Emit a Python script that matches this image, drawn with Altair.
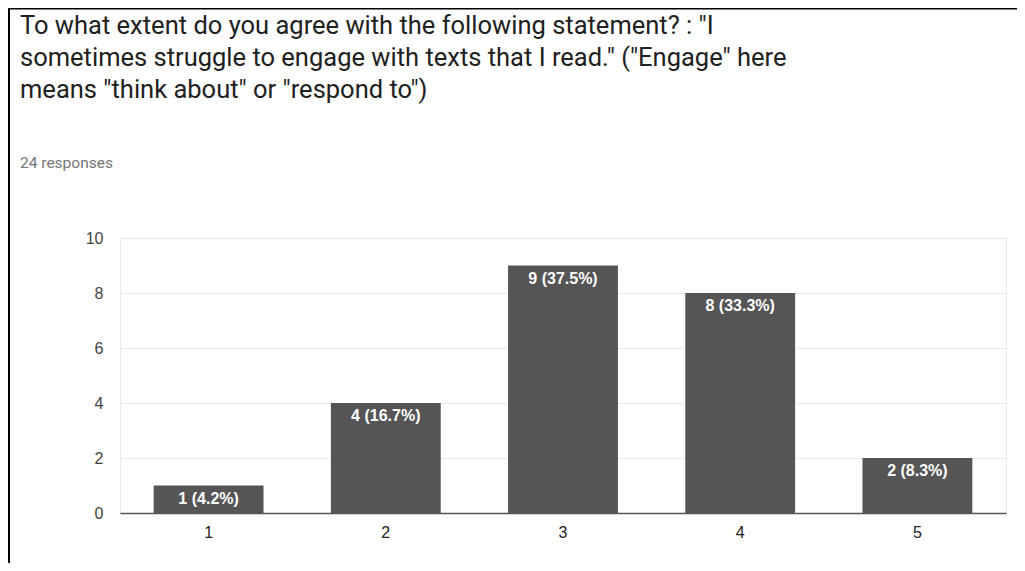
import altair as alt
import pandas as pd

categories = ["1", "2", "3", "4", "5"]
counts = [1, 4, 9, 8, 2]
labels = ["1 (4.2%)", "4 (16.7%)", "9 (37.5%)", "8 (33.3%)", "2 (8.3%)"]
title_lines = [
    "To what extent do you agree with the following statement? : \"I",
    "sometimes struggle to engage with texts that I read.\" (\"Engage\" here",
    "means \"think about\" or \"respond to\")",
]
subtitle = "24 responses"

df = pd.DataFrame({"cat": categories, "count": counts, "label": labels})
one = pd.DataFrame({"k": [0]})

W, H = 886, 275
PL, PT, PR, PB = 112, 230, 11, 50

base = alt.Chart(df)
single = alt.Chart(one)

x = alt.X("cat:N", sort=categories, title=None,
          scale=alt.Scale(paddingInner=0.38, paddingOuter=0.19),
          axis=alt.Axis(labelAngle=0, ticks=False, domain=True, domainColor="#555555",
                        domainWidth=1.5, labelFontSize=16, labelColor="#222222",
                        labelFont="Liberation Sans", labelPadding=11, grid=False))
y = alt.Y("count:Q", title=None,
          scale=alt.Scale(domain=[0, 10]),
          axis=alt.Axis(values=[0, 2, 4, 6, 8, 10], domain=False, ticks=False,
                        labelFontSize=16, labelColor="#444444", labelFont="Liberation Sans",
                        labelPadding=17, gridColor="#ebebeb", gridWidth=1))

bars = base.mark_bar(color="#555555").encode(x=x, y=y)
text = base.mark_text(color="white", baseline="top", dy=5, fontSize=16,
                      font="Liberation Sans", fontWeight="bold").encode(
    x=alt.X("cat:N", sort=categories), y="count:Q", text="label:N")

title_mark = single.mark_text(
    text=title_lines, align="left", baseline="alphabetic", font="Roboto",
    fontSize=25.5, lineHeight=32, color="#212121").encode(
    x=alt.value(-100), y=alt.value(34 - 238))
subtitle_mark = single.mark_text(
    text=subtitle, align="left", baseline="alphabetic", font="Roboto",
    fontSize=15.5, color="#757575").encode(
    x=alt.value(-100), y=alt.value(168 - 238))

frame_top = single.mark_rule(color="black", strokeWidth=2).encode(
    x=alt.value(-PL + 1), x2=alt.value(W + PR), y=alt.value(-PT + 0.5))
frame_left = single.mark_rule(color="black", strokeWidth=2).encode(
    x=alt.value(-PL + 1), y=alt.value(-PT), y2=alt.value(H + PB))

chart = alt.layer(bars, text, title_mark, subtitle_mark, frame_top, frame_left).properties(
    width=W, height=H,
    padding={"left": PL, "top": PT, "right": PR, "bottom": PB},
    autosize=alt.AutoSizeParams(type="none"),
).configure_view(stroke="#ebebeb")

chart.save("out.html", embed_options={"renderer": "svg", "actions": False})
